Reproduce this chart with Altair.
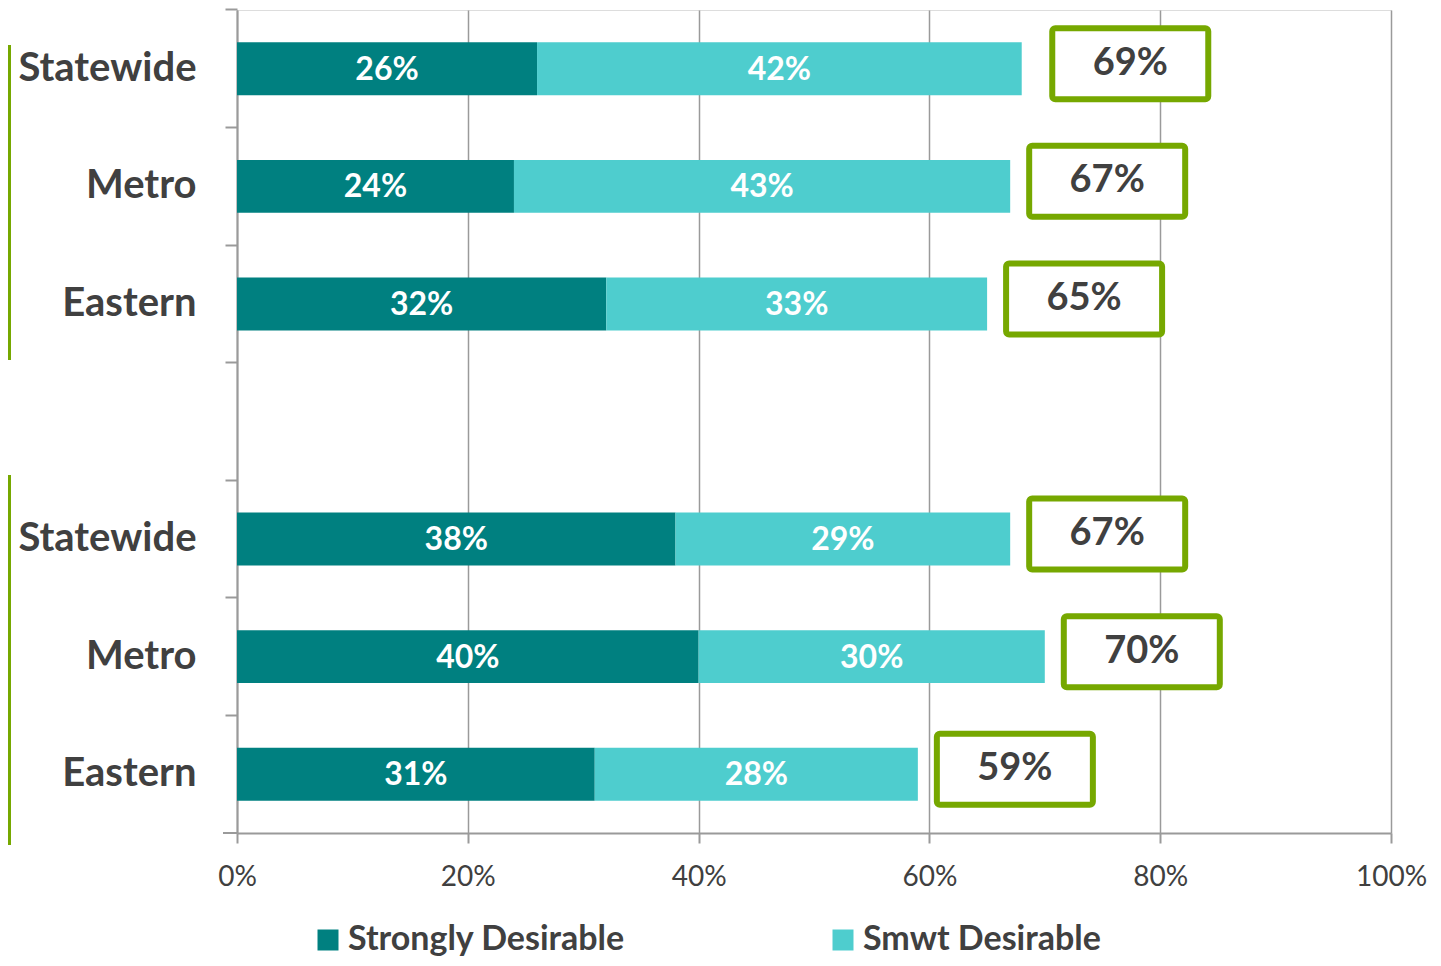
import altair as alt
import pandas as pd

# ---- data ----
row_keys = ["r1", "r2", "r3", "gap", "r5", "r6", "r7"]
row_labels = ["Statewide", "Metro", "Eastern", "", "Statewide", "Metro", "Eastern"]
strongly = [26, 24, 32, None, 38, 40, 31]
smwt = [42, 43, 33, None, 29, 30, 28]
totals = [69, 67, 65, None, 67, 70, 59]
series = ["Strongly Desirable", "Smwt Desirable"]
x_ticks = [0, 20, 40, 60, 80, 100]

TEAL = "#008080"
CYAN = "#4ECDCE"
GREEN = "#76A800"
GREY = "#9A9A9A"
TXT = "#404040"
FONT = "Lato"

rows = []
for k, s, m in zip(row_keys, strongly, smwt):
    if s is None:
        continue
    rows.append({"key": k, "series": series[0], "x0": 0, "x1": s, "value": s})
    rows.append({"key": k, "series": series[1], "x0": s, "x1": s + m, "value": m})
seg = pd.DataFrame(rows)

tot = pd.DataFrame(
    [{"key": k, "total": t} for k, t in zip(row_keys, totals) if t is not None]
)

label_map = "{" + ",".join(f"'{k}':'{l}'" for k, l in zip(row_keys, row_labels)) + "}"

P_IN = 0.55
yscale = alt.Scale(domain=row_keys, paddingInner=P_IN, paddingOuter=P_IN / 2)
xscale = alt.Scale(domain=[0, 100], nice=False)

W, H = 1154, 823

y_enc = alt.Y(
    "key:N",
    scale=yscale,
    title=None,
    axis=alt.Axis(
        labelExpr=f"{label_map}[datum.value]",
        labelFontSize=40,
        labelFontWeight="bold",
        labelColor=TXT,
        labelFont=FONT,
        labelPadding=29,
        labelLimit=0,
        tickSize=12,
        tickWidth=2,
        tickColor=GREY,
        domainColor=GREY,
        domainWidth=2,
        bandPosition=-(P_IN / 2) / (1 - P_IN),
        grid=False,
    ),
)

bars = alt.Chart(seg).mark_bar().encode(
    x=alt.X(
        "x0:Q",
        scale=xscale,
        title=None,
        axis=alt.Axis(
            values=x_ticks,
            labelExpr="datum.value + '%'",
            labelFontSize=28,
            labelColor=TXT,
            labelFont=FONT,
            labelPadding=20,
            labelFlush=False,
            tickSize=10,
            tickWidth=2,
            tickColor=GREY,
            domainColor=GREY,
            domainWidth=2,
            grid=True,
            gridColor=GREY,
            gridWidth=1.5,
        ),
    ),
    x2="x1:Q",
    y=y_enc,
    color=alt.Color(
        "series:N",
        scale=alt.Scale(domain=series, range=[TEAL, CYAN]),
        legend=alt.Legend(
            title=None,
            orient="none",
            legendX=74,
            legendY=913,
            direction="horizontal",
            columns=2,
            columnPadding=200,
            symbolType="square",
            symbolSize=441,
            symbolStrokeWidth=0,
            symbolOpacity=1,
            labelFontSize=34,
            labelFontWeight="bold",
            labelColor=TXT,
            labelFont=FONT,
            labelOffset=3,
            labelLimit=0,
        ),
    ),
)

seg_text = alt.Chart(seg).transform_calculate(
    mid="(datum.x0 + datum.x1) / 2", lab="datum.value + '%'"
).mark_text(
    color="white", fontSize=32, fontWeight="bold", font=FONT, baseline="middle", dy=1
).encode(
    x=alt.X("mid:Q", scale=xscale),
    y=alt.Y("key:N", scale=yscale),
    text="lab:N",
)

boxes = alt.Chart(tot).mark_bar(
    fill="white",
    stroke=GREEN,
    strokeWidth=6,
    cornerRadius=3,
    height=71,
    xOffset=19,
    x2Offset=175,
    yOffset=-5,
).encode(
    x=alt.X("total:Q", scale=xscale),
    x2="total:Q",
    y=alt.Y("key:N", scale=yscale),
)

box_text = alt.Chart(tot).transform_calculate(lab="datum.total + '%'").mark_text(
    color=TXT, fontSize=38, fontWeight="bold", font=FONT, baseline="middle",
    dx=97, dy=-5,
).encode(
    x=alt.X("total:Q", scale=xscale),
    y=alt.Y("key:N", scale=yscale),
    text="lab:N",
)

axis_ext = alt.Chart(seg).mark_rule(color=GREY, strokeWidth=2).encode(
    x=alt.value(-14), x2=alt.value(0), y=alt.value(H)
)
bracket1 = alt.Chart(seg).mark_rule(color=GREEN, strokeWidth=3).encode(
    x=alt.value(-227.5), y=alt.value(35), y2=alt.value(350)
)
bracket2 = alt.Chart(seg).mark_rule(color=GREEN, strokeWidth=3).encode(
    x=alt.value(-227.5), y=alt.value(465), y2=alt.value(835)
)

chart = (
    alt.layer(bars, seg_text, boxes, box_text, axis_ext, bracket1, bracket2)
    .properties(
        width=W,
        height=H,
        autosize=alt.AutoSizeParams(type="none"),
        padding={"left": 229, "top": 2, "right": 40, "bottom": 125},
    )
    .configure_view(stroke=None)
    .configure(font=FONT)
)

chart.save("out.html", embed_options={"renderer": "svg", "actions": False})
